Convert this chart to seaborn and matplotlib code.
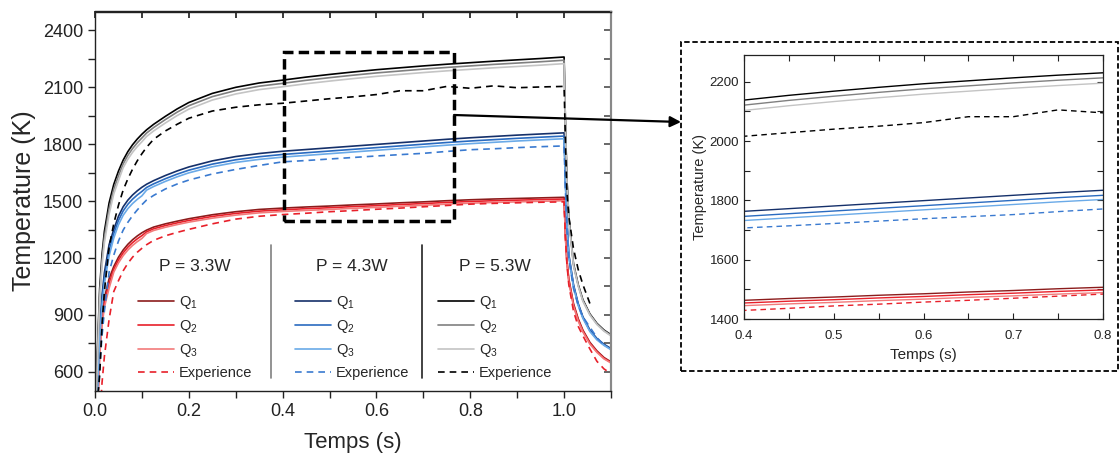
import numpy as np
import pandas as pd
import seaborn as sns
import matplotlib.pyplot as plt
from matplotlib.lines import Line2D
from matplotlib.patches import Rectangle, FancyArrowPatch
from matplotlib.ticker import MultipleLocator, FormatStrFormatter

# time grid (s): heating phase then cooling phase
t_heat = [0, 0.005, 0.01, 0.015, 0.02, 0.03, 0.04, 0.05, 0.06, 0.07, 0.08, 0.09, 0.1, 0.11,
          0.125, 0.15, 0.175, 0.2, 0.25, 0.3, 0.35, 0.4, 0.45, 0.5, 0.55, 0.6, 0.65, 0.7,
          0.75, 0.8, 0.85, 0.9, 0.95, 1.0]
t_cool = [1.003, 1.006, 1.01, 1.02, 1.03, 1.04, 1.055, 1.07, 1.085, 1.1]

# P = 3.3 W
red_q1 = [300, 400, 732, 894, 990, 1090, 1155, 1204, 1242, 1272, 1296, 1316, 1333, 1347,
          1363, 1380, 1394, 1407, 1428, 1444, 1456, 1463, 1469, 1474, 1480, 1485, 1491, 1496,
          1502, 1507, 1511, 1514, 1517, 1520,
          1320, 1190, 1090, 960, 880, 820, 755, 710, 675, 652]
red_q2 = [300, 375, 707, 869, 965, 1065, 1140, 1189, 1227, 1257, 1281, 1301, 1318, 1338,
          1354, 1371, 1385, 1398, 1419, 1435, 1447, 1454, 1460, 1465, 1471, 1476, 1482, 1487,
          1493, 1498, 1502, 1505, 1508, 1511,
          1310, 1180, 1082, 953, 874, 815, 750, 706, 671, 649]
red_q3 = [300, 350, 682, 844, 940, 1040, 1125, 1174, 1212, 1242, 1266, 1286, 1303, 1329,
          1345, 1362, 1376, 1389, 1410, 1426, 1438, 1445, 1451, 1456, 1462, 1467, 1473, 1478,
          1484, 1489, 1493, 1496, 1499, 1502,
          1300, 1172, 1075, 946, 868, 810, 746, 702, 668, 646]
red_exp = [300, 300, 330, 542, 680, 875, 1023, 1080, 1132, 1172, 1204, 1230, 1251, 1270,
           1293, 1317, 1335, 1351, 1380, 1405, 1420, 1429, 1436, 1444, 1450, 1457, 1463, 1470,
           1477, 1484, 1488, 1491, 1494, 1496,
           1300, 1170, 1060, 920, 840, 790, 720, 655, 615, 590]

# P = 4.3 W
blue_q1 = [300, 526, 838, 1004, 1122, 1270, 1350, 1420, 1470, 1505, 1532, 1554, 1573, 1589,
           1608, 1635, 1659, 1680, 1712, 1735, 1751, 1763, 1772, 1781, 1790, 1799, 1808, 1817,
           1826, 1834, 1841, 1848, 1854, 1860,
           1600, 1400, 1220, 1060, 960, 890, 820, 775, 745, 722]
blue_q2 = [300, 496, 808, 974, 1092, 1240, 1328, 1398, 1448, 1483, 1510, 1532, 1551, 1572,
           1591, 1618, 1642, 1663, 1695, 1718, 1734, 1746, 1755, 1764, 1773, 1782, 1791, 1800,
           1809, 1817, 1824, 1831, 1837, 1843,
           1590, 1392, 1213, 1054, 955, 886, 816, 772, 742, 719]
blue_q3 = [300, 466, 778, 944, 1062, 1210, 1305, 1375, 1425, 1460, 1487, 1509, 1528, 1558,
           1577, 1604, 1628, 1649, 1681, 1704, 1720, 1732, 1741, 1750, 1759, 1768, 1777, 1786,
           1795, 1803, 1810, 1817, 1823, 1829,
           1580, 1385, 1206, 1048, 950, 882, 812, 768, 739, 716]
blue_exp = [300, 420, 620, 790, 920, 1124, 1215, 1289, 1347, 1388, 1423, 1453, 1481, 1506,
            1530, 1564, 1590, 1611, 1643, 1667, 1688, 1707, 1714, 1722, 1730, 1738, 1745, 1752,
            1762, 1771, 1776, 1782, 1787, 1791,
            1550, 1350, 1200, 1040, 950, 890, 835, 780, 740, np.nan]

# P = 5.3 W
black_q1 = [300, 700, 1040, 1220, 1340, 1490, 1588, 1658, 1716, 1761, 1797, 1827, 1853, 1876,
            1905, 1947, 1986, 2020, 2068, 2100, 2123, 2138, 2154, 2168, 2181, 2193, 2203, 2213,
            2222, 2230, 2238, 2245, 2252, 2260,
            1900, 1620, 1420, 1170, 1060, 980, 905, 855, 820, 795]
black_q2 = [300, 670, 1010, 1190, 1310, 1460, 1563, 1633, 1696, 1741, 1777, 1807, 1833, 1859,
            1888, 1930, 1969, 2003, 2051, 2083, 2106, 2121, 2137, 2151, 2164, 2176, 2186, 2196,
            2205, 2213, 2221, 2228, 2235, 2243,
            1890, 1612, 1413, 1165, 1056, 976, 902, 852, 817, 792]
black_q3 = [300, 640, 980, 1160, 1280, 1430, 1538, 1608, 1676, 1721, 1757, 1787, 1813, 1841,
            1870, 1912, 1951, 1985, 2033, 2065, 2088, 2103, 2119, 2133, 2146, 2158, 2168, 2178,
            2187, 2195, 2203, 2210, 2217, 2225,
            1880, 1605, 1406, 1160, 1052, 972, 899, 849, 814, 789]
black_exp = [300, 440, 582, 849, 1024, 1256, 1381, 1478, 1558, 1617, 1668, 1712, 1750, 1784,
             1826, 1870, 1905, 1937, 1975, 1995, 2008, 2016, 2028, 2040, 2050, 2062, 2082, 2082,
             2105, 2095, 2108, 2098, 2102, 2105,
             1800, 1550, 1420, 1250, 1140, 1060, 960, np.nan, np.nan, np.nan]

powers = ['P = 3.3W', 'P = 4.3W', 'P = 5.3W']
series_labels = ['Q$_1$', 'Q$_2$', 'Q$_3$', 'Experience']
series = [[red_q1, red_q2, red_q3, red_exp],
          [blue_q1, blue_q2, blue_q3, blue_exp],
          [black_q1, black_q2, black_q3, black_exp]]
colors = [['#8c1c1c', '#e8202a', '#f27a7a', '#e8202a'],
          ['#15306a', '#2a6bc0', '#6aaae8', '#3a7ad0'],
          ['#000000', '#808080', '#c4c4c4', '#000000']]
styles = ['-', '-', '-', (0, (4, 3))]

sns.set_theme(style='ticks')
plt.rcParams['font.family'] = ['Liberation Sans', 'DejaVu Sans']
plt.rcParams['mathtext.default'] = 'regular'

t_all = t_heat + t_cool

fig = plt.figure(figsize=(11.19, 4.57), dpi=100)
ax = fig.add_axes([95 / 1119, 1 - 390.7 / 457, 516 / 1119, 379.2 / 457])
axin = fig.add_axes([744 / 1119, 1 - 319 / 457, 359 / 1119, 264 / 457])


def draw(a, lw):
    for group, cols in zip(series, colors):
        for vals, c, ls in zip(group, cols, styles):
            df = pd.DataFrame({'t': t_all, 'T': vals})
            sns.lineplot(data=df, x='t', y='T', ax=a, color=c, linestyle=ls, lw=lw,
                         errorbar=None)


draw(ax, 1.2)
draw(axin, 1.0)

# main axes
ax.set_xlim(0, 1.1)
ax.set_ylim(500, 2500)
ax.xaxis.set_major_locator(MultipleLocator(0.2))
ax.xaxis.set_minor_locator(MultipleLocator(0.1))
ax.xaxis.set_major_formatter(FormatStrFormatter('%.1f'))
ax.yaxis.set_major_locator(MultipleLocator(300))
ax.yaxis.set_minor_locator(MultipleLocator(150))
ax.tick_params(which='both', direction='out', length=5, width=1, labelsize=13, colors='#222222')
ax.set_xlabel('Temps (s)', fontsize=16, labelpad=9)
ax.set_ylabel('Temperature (K)', fontsize=18, labelpad=5)
for s in ax.spines.values():
    s.set_visible(True)
    s.set_linewidth(1)
    s.set_color('#222222')
ax.spines['right'].set_color('#888888')
ax.spines['right'].set_linewidth(1.5)
top = ax.secondary_xaxis('top')
top.xaxis.set_major_locator(MultipleLocator(0.1))
top.tick_params(direction='in', length=5, labeltop=False, colors='#222222')
top.spines['top'].set_linewidth(1)
top.spines['top'].set_color('#222222')
right = ax.secondary_yaxis('right')
right.yaxis.set_major_locator(MultipleLocator(150))
right.tick_params(direction='in', length=5, labelright=False, colors='#555555')
right.spines['right'].set_linewidth(1.5)
right.spines['right'].set_color('#888888')

# zoom box
ax.add_patch(Rectangle((0.367, 0.4475), 0.329, 0.4455, transform=ax.transAxes, fill=False,
                       ec='black', lw=2.5, ls=(0, (3, 1.5)), zorder=5))

# legend separators
ax.plot([0.341, 0.341], [0.033, 0.383], transform=ax.transAxes, color='#808080', lw=1.2)
ax.plot([0.633, 0.633], [0.033, 0.383], transform=ax.transAxes, color='#222222', lw=1.2)

leg_x = [195, 352, 495]
for k in range(3):
    handles = [Line2D([], [], color=c, ls=ls, lw=1.2) for c, ls in zip(colors[k], styles)]
    leg = ax.legend(handles, series_labels, title=powers[k], loc='upper center',
                    bbox_to_anchor=(leg_x[k] / 1119, 1 - 252 / 457),
                    bbox_transform=fig.transFigure, frameon=False, fontsize=10.5,
                    title_fontsize=12.5, handlelength=2.5, handletextpad=0.3,
                    labelspacing=0.48, borderpad=0)
    leg._legend_box.sep = 14
    ax.add_artist(leg)
ax.legend_ = None

# inset axes
axin.set_xlim(0.4, 0.8)
axin.set_ylim(1400, 2290)
axin.xaxis.set_major_locator(MultipleLocator(0.1))
axin.xaxis.set_minor_locator(MultipleLocator(0.05))
axin.yaxis.set_major_locator(MultipleLocator(200))
axin.yaxis.set_minor_locator(MultipleLocator(100))
axin.tick_params(which='both', direction='in', top=True, right=True, length=4, width=0.8,
                 labelsize=9.5, colors='#222222')
axin.tick_params(axis='x', pad=8)
axin.set_xlabel('Temps (s)', fontsize=11, labelpad=4)
axin.set_ylabel('Temperature (K)', fontsize=10.5, labelpad=2)
for s in axin.spines.values():
    s.set_visible(True)
    s.set_linewidth(0.9)
    s.set_color('#222222')

# dashed frame round the inset
fig.add_artist(Rectangle((681 / 1119, 1 - 371 / 457), 436.7 / 1119, 329.3 / 457,
                         transform=fig.transFigure, fill=False, ec='black', lw=1.3,
                         ls=(0, (3, 1.5))))

# arrow from zoom box to inset
fig.add_artist(FancyArrowPatch((454 / 1119, 1 - 115 / 457), (681 / 1119, 1 - 122 / 457),
                               transform=fig.transFigure, arrowstyle='-|>', mutation_scale=16,
                               color='black', lw=1.6, shrinkA=0, shrinkB=0))

fig.savefig('out.png', dpi=100)
